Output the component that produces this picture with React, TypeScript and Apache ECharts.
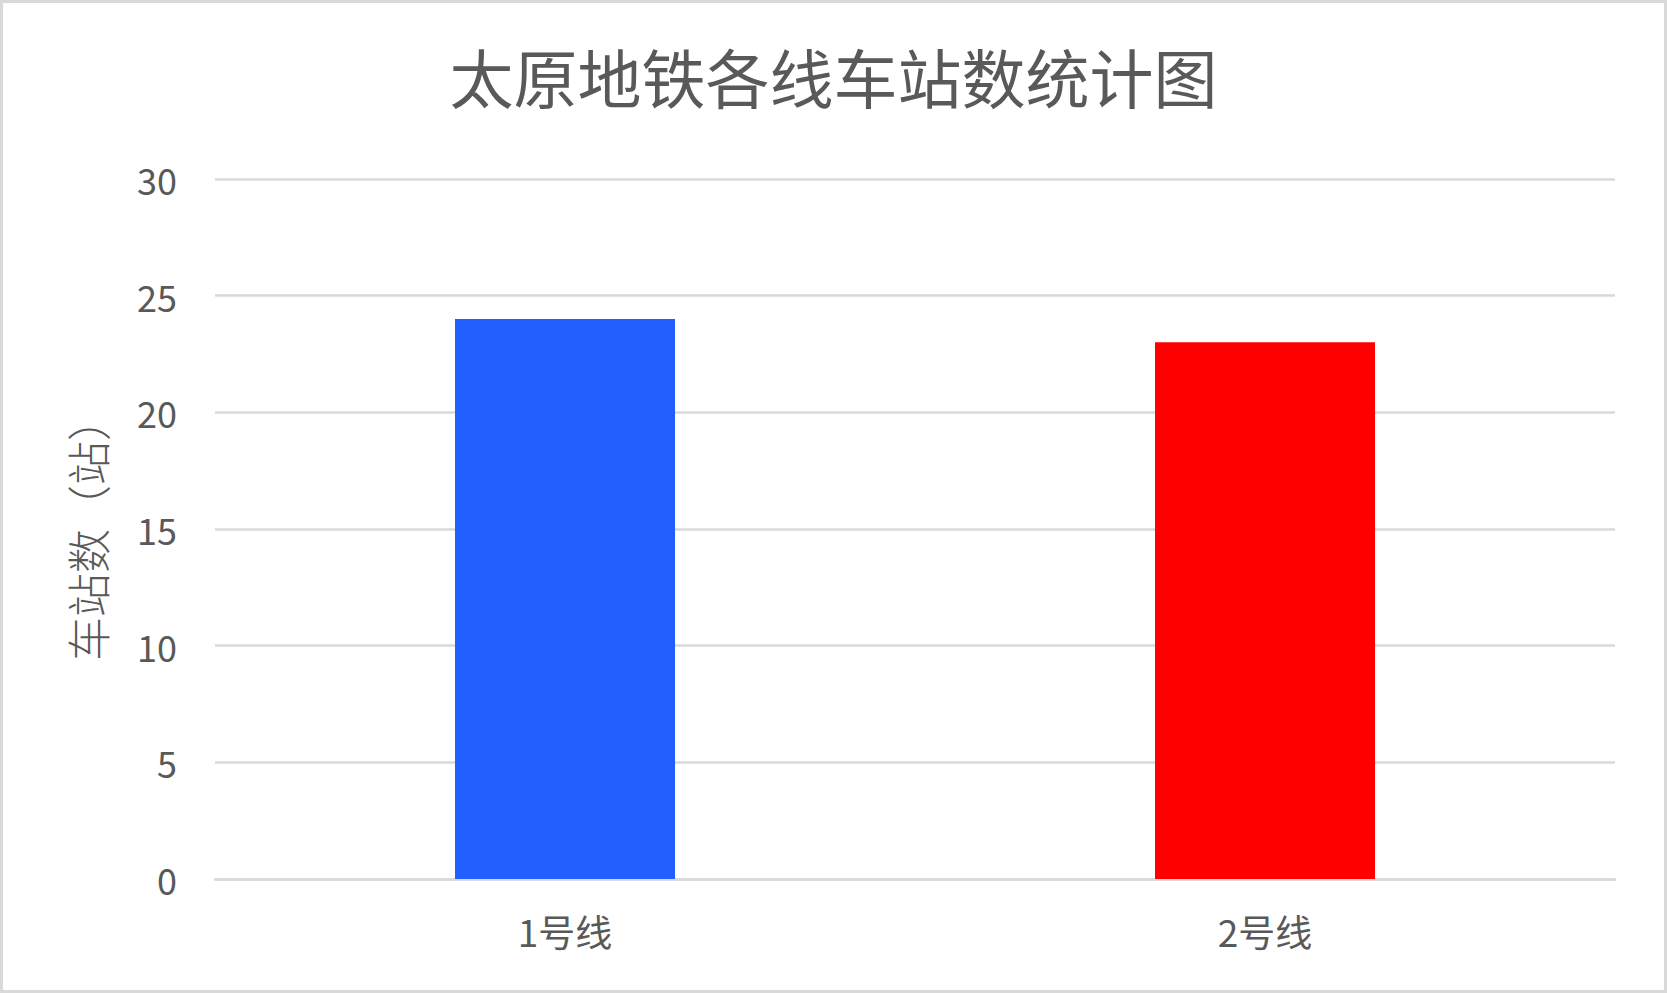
import { useEffect, useRef } from "react";
import * as echarts from "echarts";

const categories = ["1号线", "2号线"];
const stationCounts = [24, 23];
const barColors = ["#2160FF", "#FF0000"];

const TITLE = "太原地铁各线车站数统计图";
const Y_NAME = "车站数（站）";
const FONT = "'Noto Sans CJK SC', 'Noto Sans', sans-serif";
const TEXT = "#595959";
const GRID_LINE = "#D9D9D9";

export default function App() {
  const chartEl = useRef<HTMLDivElement | null>(null);

  useEffect(() => {
    document.body.style.margin = "0";
    if (!chartEl.current) return;

    const chart = echarts.init(chartEl.current, undefined, { renderer: "svg" });

    chart.setOption({
      animation: false,
      backgroundColor: "#ffffff",
      textStyle: { fontFamily: FONT },
      title: {
        text: TITLE,
        left: "center",
        top: 35,
        textStyle: {
          color: TEXT,
          fontSize: 64,
          fontWeight: "normal",
          fontFamily: FONT,
        },
      },
      grid: {
        left: 212,
        right: 49,
        top: 176,
        bottom: 111,
        containLabel: false,
      },
      xAxis: {
        type: "category",
        data: categories,
        axisLine: { show: true, lineStyle: { color: GRID_LINE, width: 2.5 } },
        axisTick: { show: false },
        axisLabel: {
          color: TEXT,
          fontSize: 37,
          margin: 33,
          fontFamily: FONT,
        },
      },
      yAxis: {
        type: "value",
        min: 0,
        max: 30,
        interval: 5,
        name: Y_NAME,
        nameLocation: "middle",
        nameRotate: 90,
        nameGap: 106,
        nameTextStyle: {
          color: TEXT,
          fontSize: 44,
          fontWeight: 300,
          fontFamily: FONT,
        },
        axisLine: { show: false },
        axisTick: { show: false },
        axisLabel: {
          color: TEXT,
          fontSize: 36,
          margin: 38,
          verticalAlign: "middle",
          lineHeight: 36,
          padding: [0, 0, 8, 0],
          fontFamily: FONT,
        },
        splitLine: { lineStyle: { color: GRID_LINE, width: 2.5 } },
      },
      series: [
        {
          type: "bar",
          barWidth: 220,
          data: stationCounts.map((value, i) => ({
            value,
            itemStyle: { color: barColors[i] },
          })),
        },
      ],
    });

    return () => chart.dispose();
  }, []);

  return (
    <div
      style={{
        width: 1667,
        height: 993,
        boxSizing: "border-box",
        border: "3px solid #D9D9D9",
        background: "#fff",
      }}
    >
      <div ref={chartEl} style={{ width: 1661, height: 987 }} />
    </div>
  );
}
